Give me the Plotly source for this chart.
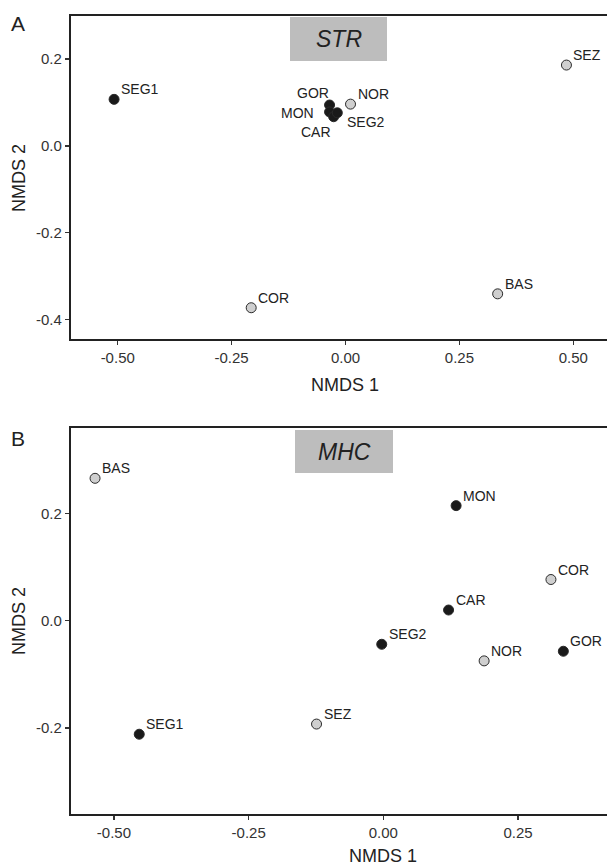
import plotly.graph_objects as go

# ---------------- data ----------------
sites_str = ["SEG1", "SEZ", "GOR", "MON", "CAR", "SEG2", "NOR", "COR", "BAS"]
nmds1_str = [-0.508, 0.485, -0.035, -0.035, -0.026, -0.018, 0.011, -0.207, 0.334]
nmds2_str = [0.107, 0.186, 0.094, 0.078, 0.067, 0.076, 0.096, -0.373, -0.341]

sites_mhc = ["BAS", "MON", "COR", "CAR", "SEG2", "GOR", "NOR", "SEZ", "SEG1"]
nmds1_mhc = [-0.535, 0.135, 0.311, 0.121, -0.003, 0.334, 0.187, -0.124, -0.453]
nmds2_mhc = [0.266, 0.215, 0.077, 0.020, -0.044, -0.057, -0.075, -0.193, -0.212]

dark_sites = ["SEG1", "SEG2", "GOR", "MON", "CAR"]

xticks_str = [-0.5, -0.25, 0.0, 0.25, 0.5]
xticklabels_str = ["-0.50", "-0.25", "0.00", "0.25", "0.50"]
yticks_str = [-0.4, -0.2, 0.0, 0.2]
yticklabels_str = ["-0.4", "-0.2", "0.0", "0.2"]
xticks_mhc = [-0.5, -0.25, 0.0, 0.25]
xticklabels_mhc = ["-0.50", "-0.25", "0.00", "0.25"]
yticks_mhc = [-0.2, 0.0, 0.2]
yticklabels_mhc = ["-0.2", "0.0", "0.2"]

# ---------------- layout helpers ----------------
W, H = 607, 868
FONT = "Liberation Sans, Arial, Helvetica, sans-serif"
def px(x):
    return x / W
def py(y):
    return 1 - y / H

DARK = "#1a1a1a"
LIGHT = "#cfcfcf"

fig = go.Figure()

def add_points(sites, xs, ys, xa, ya):
    fills = [DARK if s in dark_sites else LIGHT for s in sites]
    fig.add_trace(go.Scatter(
        x=xs, y=ys, mode="markers", xaxis=xa, yaxis=ya,
        marker=dict(size=10, color=fills, line=dict(color="#2a2a2a", width=1)),
        hoverinfo="text", text=sites, showlegend=False, cliponaxis=False))

add_points(sites_str, nmds1_str, nmds2_str, "x", "y")
add_points(sites_mhc, nmds1_mhc, nmds2_mhc, "x2", "y2")

# label placement (pixel offsets): default up-right of point
default_off = dict(xanchor="left", xshift=5, yshift=10)
override_str = {
    "GOR": dict(xanchor="center", xshift=-17, yshift=12),
    "MON": dict(xanchor="center", xshift=-32, yshift=-1),
    "CAR": dict(xanchor="center", xshift=-18, yshift=-15),
    "SEG2": dict(xanchor="left", xshift=8, yshift=-9),
}

annotations = []
def add_labels(sites, xs, ys, xref, yref, override):
    for s, x, y in zip(sites, xs, ys):
        o = override.get(s, default_off)
        annotations.append(dict(
            x=x, y=y, xref=xref, yref=yref, text=s, showarrow=False,
            xanchor=o["xanchor"], yanchor="middle",
            xshift=o["xshift"], yshift=o["yshift"],
            font=dict(family=FONT, size=14, color="#222222")))

add_labels(sites_str, nmds1_str, nmds2_str, "x", "y", override_str)
add_labels(sites_mhc, nmds1_mhc, nmds2_mhc, "x2", "y2", {})

# panel geometry (pixels)
left_px = 70.8
A_top, A_bot = 16, 339
B_top, B_bot = 428, 814

axis_common = dict(
    showgrid=False, zeroline=False, showline=True, linecolor="#222222",
    linewidth=2, ticks="outside", ticklen=4, tickwidth=1.5, tickcolor="#333333",
    tickfont=dict(family=FONT, size=15, color="#333333"),
    tickmode="array", automargin=False, fixedrange=True)

fig.update_layout(
    width=W, height=H,
    margin=dict(l=0, r=0, t=0, b=0),
    paper_bgcolor="white", plot_bgcolor="white",
    xaxis=dict(axis_common, domain=[px(left_px), 1.0], range=[-0.603, 0.574],
               tickvals=xticks_str, ticktext=xticklabels_str, anchor="y",
               mirror=True),
    yaxis=dict(axis_common, domain=[py(A_bot), py(A_top)], range=[-0.445, 0.299],
               tickvals=yticks_str, ticktext=yticklabels_str, anchor="x"),
    xaxis2=dict(axis_common, domain=[px(left_px), 1.0], range=[-0.580, 0.415],
                tickvals=xticks_mhc, ticktext=xticklabels_mhc, anchor="y2",
                mirror=True),
    yaxis2=dict(axis_common, domain=[py(B_bot), py(B_top)], range=[-0.361, 0.360],
                tickvals=yticks_mhc, ticktext=yticklabels_mhc, anchor="x2"),
)

# title boxes
shapes = [
    dict(type="rect", xref="paper", yref="paper", x0=px(290), x1=px(387),
         y0=py(61), y1=py(17), fillcolor="#bdbdbd", line=dict(width=0), layer="below"),
    dict(type="rect", xref="paper", yref="paper", x0=px(295), x1=px(393),
         y0=py(473), y1=py(430), fillcolor="#bdbdbd", line=dict(width=0), layer="below"),
]
fig.update_layout(shapes=shapes)

def txt(x, y, s, size, italic=False, angle=0, color="#222222"):
    annotations.append(dict(
        x=px(x), y=py(y), xref="paper", yref="paper", text=s, showarrow=False,
        xanchor="center", yanchor="middle", textangle=angle,
        font=dict(family=FONT, size=size, color=color,
                  style="italic" if italic else "normal")))

txt(338.5, 39, "STR", 23, italic=True)
txt(344, 451.5, "MHC", 23, italic=True)
txt(18, 23, "A", 21)
txt(18, 438, "B", 21)
txt(345, 385, "NMDS 1", 18)
txt(383, 856, "NMDS 1", 18)
txt(19, 178, "NMDS 2", 18, angle=-90)
txt(19, 621, "NMDS 2", 18, angle=-90)

fig.update_layout(annotations=annotations)

fig.write_html(
    "out.html",
    config={"displayModeBar": False, "staticPlot": True},
    post_script="document.body.style.margin='0';document.body.style.overflow='hidden';",
)
